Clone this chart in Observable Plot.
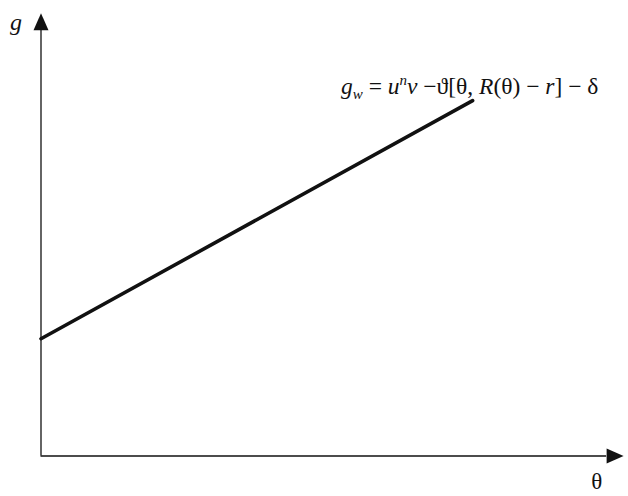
<!DOCTYPE html>
<html>
<head>
<meta charset="utf-8">
<script src="https://cdn.jsdelivr.net/npm/d3@7"></script>
<script src="https://cdn.jsdelivr.net/npm/@observablehq/plot@0.6"></script>
<style>
  body { margin: 0; background: #fff; }
  svg { display: block; }
</style>
</head>
<body>
<div id="chart"></div>
<script>
// Data (abstract units)
const thetaVals = [0, 7.41];
const gVals = [2.65, 8.03];
const axisTopY = 9.62;   // y-axis line end (arrow base)
const axisRightX = 9.71; // x-axis line end (arrow base)
const yLabel = "g";
const xLabel = "θ";
const eqParts = [
  {t: "g", i: true}, {t: "w", i: true, sub: true}, {t: " = "},
  {t: "u", i: true}, {t: "n", i: true, sup: true}, {t: "v", i: true},
  {t: " −ϑ[θ, "}, {t: "R", i: true}, {t: "(θ) − "}, {t: "r", i: true}, {t: "] − δ"}
];

const lineData = thetaVals.map((x, k) => ({x, y: gVals[k]}));
const triShape = {
  draw(context, l) {
    context.moveTo(-7.5, 0);
    context.lineTo(0, -l);
    context.lineTo(7.5, 0);
    context.closePath();
  }
};

const font = "'Liberation Serif', 'DejaVu Serif', serif";
const plot = Plot.plot({
  width: 628,
  height: 496,
  marginTop: 0, marginRight: 0, marginBottom: 0, marginLeft: 0,
  x: {domain: [0, 10], range: [40.5, 623], axis: null},
  y: {domain: [0, 10], range: [455.5, 13], axis: null},
  style: {fontFamily: font, background: "#fff", overflow: "visible"},
  marks: [
    Plot.ruleX([0], {y1: 0, y2: axisTopY, stroke: "#111", strokeWidth: 1.3}),
    Plot.ruleY([0], {x1: 0, x2: axisRightX, stroke: "#111", strokeWidth: 1.3}),
    Plot.vector([{x: 0, y: axisTopY}], {x: "x", y: "y", length: 17, rotate: 0, anchor: "start", shape: triShape, fill: "#111", stroke: "none"}),
    Plot.vector([{x: axisRightX, y: 0}], {x: "x", y: "y", length: 17, rotate: 90, anchor: "start", shape: triShape, fill: "#111", stroke: "none"}),
    Plot.line(lineData, {x: "x", y: "y", stroke: "#111", strokeWidth: 3.6}),
    Plot.text([yLabel], {x: -0.43, y: 9.8, text: d => d, fontSize: 24, fontStyle: "italic", fill: "#111"}),
    Plot.text([xLabel], {x: 9.54, y: -0.57, text: d => d, fontSize: 23, fill: "#111"}),
    Plot.text(["eq"], {x: 5.15, y: 8.34, text: d => d, fontSize: 23.5, textAnchor: "start", fill: "#111", className: "eq"})
  ]
});
document.getElementById("chart").appendChild(plot);

// Build rich equation text with tspans
const eqText = d3.select(plot).select("g.eq text");
eqText.text("");
let shift = 0;
eqParts.forEach(p => {
  const ts = eqText.append("tspan").text(p.t);
  if (p.i) ts.attr("font-style", "italic");
  let target = p.sub ? 5 : p.sup ? -9 : 0;
  if (p.sub || p.sup) ts.attr("font-size", 15);
  const d = target - shift;
  if (d !== 0) ts.attr("dy", d);
  shift = target;
});
</script>
</body>
</html>
